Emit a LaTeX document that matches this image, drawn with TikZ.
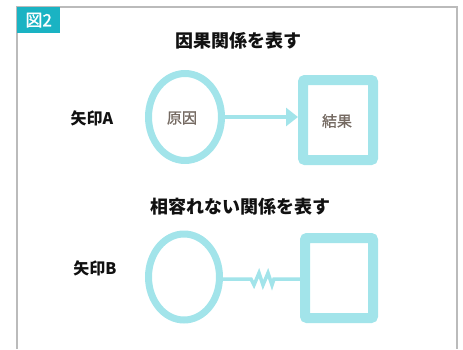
\documentclass[tikz,border=0pt]{standalone}
\usepackage{fontspec}
\newfontfamily\cjk{Noto Sans CJK JP}
\newfontfamily\cjkmed[FakeBold=1.0]{Noto Sans CJK JP}
\usetikzlibrary{shapes.geometric,arrows.meta}
\definecolor{frameg}{HTML}{BBBBBB}
\definecolor{badge}{HTML}{1AB3C3}
\definecolor{lcyan}{HTML}{A2E4EA}
\definecolor{brownish}{HTML}{756A62}
\definecolor{titlek}{HTML}{111111}
\tikzset{
  circ/.style={ellipse, draw=lcyan, line width=7pt, minimum width=73pt, minimum height=87pt, inner sep=0pt},
  sq/.style={rectangle, draw=lcyan, line width=10pt, rounded corners=2pt, minimum width=70pt, minimum height=80pt, inner sep=0pt},
  inlabel/.style={font=\cjkmed\fontsize{15}{17}\selectfont, text=brownish},
  title/.style={font=\cjk\bfseries\fontsize{18}{21}\selectfont, text=titlek},
  arrlabel/.style={font=\cjk\bfseries\fontsize{16}{19}\selectfont, text=titlek},
  conn/.style={draw=lcyan, line width=4pt},
}
\begin{document}
\begin{tikzpicture}[x=1pt,y=-1pt]
\useasboundingbox (0,0) rectangle (463,349);
% frame
\draw[frameg, line width=1.5pt] (17,349) -- (17,7) -- (457,7) -- (457,349);
\node[fill=badge, minimum width=43pt, minimum height=26pt, inner sep=0pt, anchor=north west, text=white, font=\cjkmed\fontsize{17}{19}\selectfont] (badge) at (17,7) {図2};
% titles
\node[title] (t1) at (238,41) {因果関係を表す};
\node[title] (t2) at (240,207) {相容れない関係を表す};
% row A
\node[arrlabel] (la) at (92,118) {矢印A};
\node[circ] (ca) at (185,117) {};
\node[inlabel] at (182,118) (ta) {原因};
\node[sq] (sa) at (338,120) {};
\node[inlabel] at (337,121) (tb) {結果};
\coordinate (a1) at (ca.east);
\draw[conn, -{Triangle[length=12pt,width=18pt]}] (a1) -- (sa.west |- a1);
% row B
\node[arrlabel] (lb) at (95,268) {矢印B};
\node[circ, minimum width=71pt, minimum height=86pt] (cb) at (184,277) {};
\node[sq, minimum width=68pt] (sb) at (339,278) {};
\coordinate (z1) at (251,279);
\coordinate (z2) at (274,279);
\draw[draw=lcyan, line width=3.5pt] (cb.east |- z1) -- (z1) -- (254,285) -- (259,273) -- (263,285) -- (268,273) -- (272,285) -- (z2) -- (sb.west |- z2);
\end{tikzpicture}
\end{document}
